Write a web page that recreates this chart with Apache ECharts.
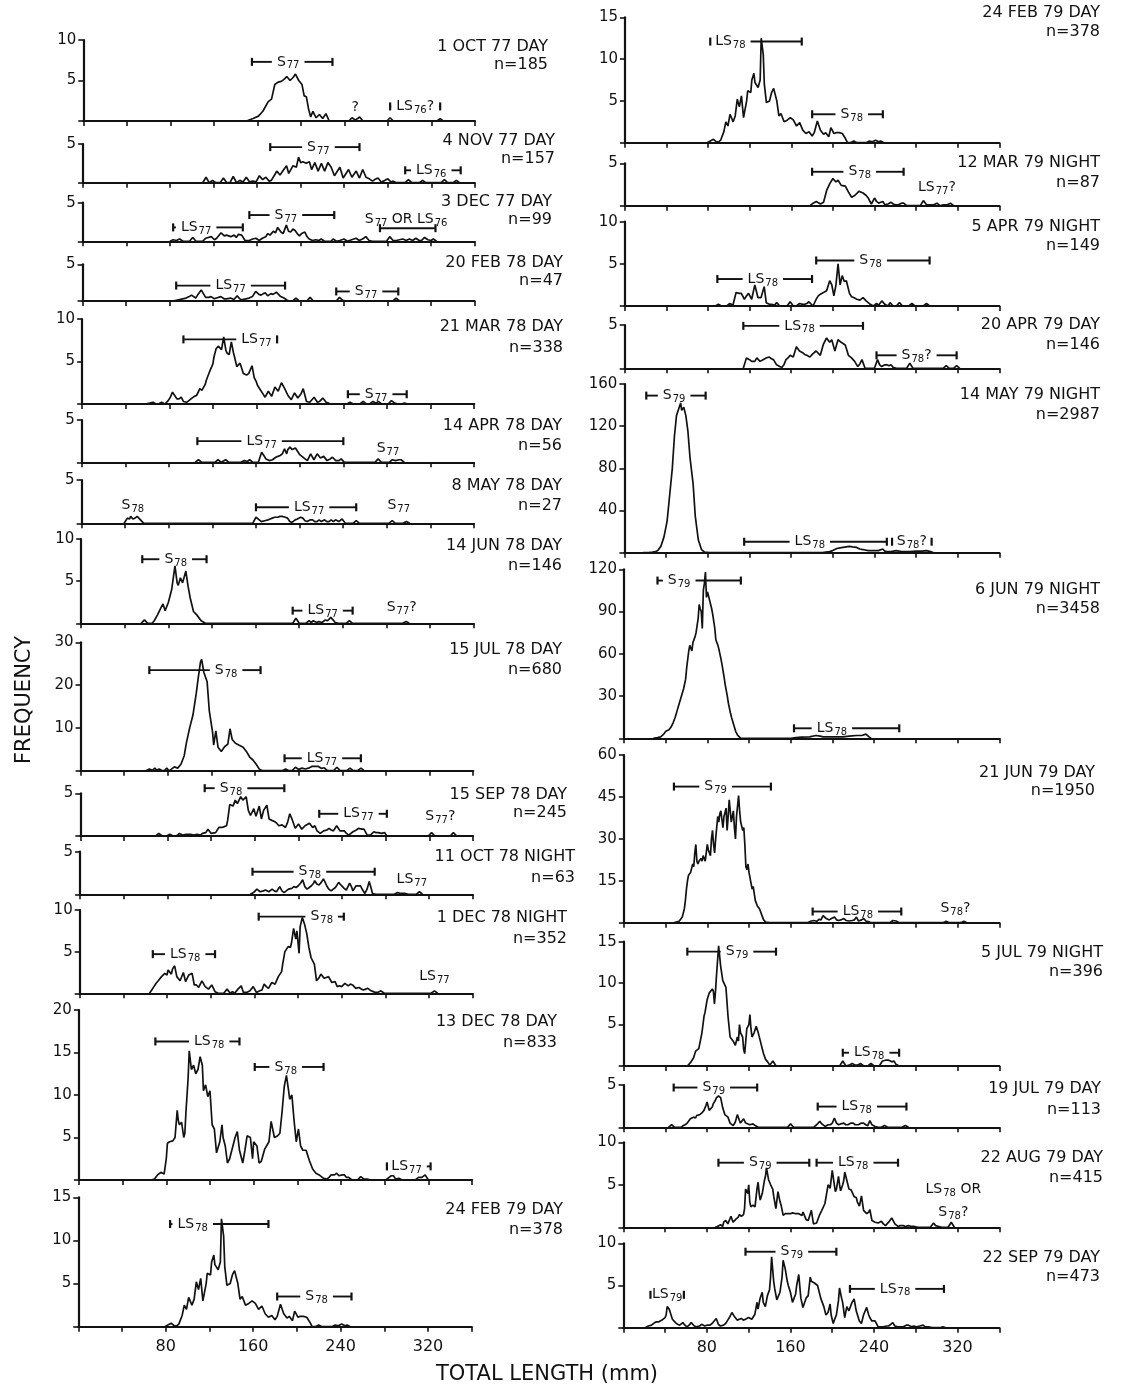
<!DOCTYPE html>
<html><head><meta charset="utf-8">
<script src="https://cdn.jsdelivr.net/npm/echarts@6/dist/echarts.min.js"></script>
<style>html,body{margin:0;padding:0;background:#fff}#c{width:1130px;height:1388px}</style>
</head><body><div id="c"></div>
<script>
// ---------- DATA: length-frequency curves, [total length mm, frequency] ----------
const oct77=[[150,0],[156,0.3],[161,0.6],[165,1.2],[170,2.4],[173,2.7],[176,4.5],[179,4.8],[182,4.9],[185,5.2],[187,5.5],[190,5.0],[193,5.4],[195,5.8],[198,5.0],[201,4.5],[203,3.1],[205,3.0],[207,1.5],[209,0.5],[211,1.2],[214,0.4],[217,0.8],[220,0.3],[223,0.9],[226,0],[244,0],[247,0.4],[250,0.1],[254,0.5],[257,0],[279,0],[282,0.4],[285,0],[325,0],[328,0.3],[331,0]];
const nov77=[[110,0],[113,0.7],[116,0],[119,0.3],[122,0],[126,0],[129,0.6],[132,0],[135,0],[138,0.8],[141,0],[144,0.3],[147,0.1],[150,0.7],[153,0.1],[156,0.2],[159,0.1],[162,0.9],[165,0.4],[168,0.7],[171,0.2],[173,0.3],[176,1.0],[178,1.5],[181,1.0],[184,1.6],[187,2.2],[189,1.2],[193,2.2],[196,2.0],[198,3.3],[200,2.6],[202,2.7],[205,2.5],[208,2.7],[210,1.7],[213,2.6],[216,1.5],[219,2.5],[222,1.5],[225,2.6],[228,2.0],[231,0.9],[236,2.0],[239,0.6],[244,1.7],[247,0.7],[251,1.5],[254,0.6],[257,1.7],[260,0.7],[263,0.5],[266,0.2],[268,0.4],[271,0.6],[274,0.1],[276,0.2],[280,0.5],[283,0.1],[285,0.2],[288,0],[296,0],[299,0.4],[302,0],[309,0],[312,0.3],[315,0],[329,0],[332,0.4],[335,0],[340,0],[343,0.3],[346,0]];
const dec77=[[80,0],[83,0.2],[86,0.1],[89,0.3],[92,0],[98,0],[101,0.5],[104,0],[110,0],[113,0.4],[118,0.6],[121,0.2],[123,0.4],[127,1.1],[130,0.7],[132,0.8],[136,0.6],[139,0.8],[141,0.5],[143,0.9],[146,0.8],[149,0.1],[153,0.1],[156,0.3],[159,0.4],[162,0.1],[165,0.4],[168,0.6],[170,1.0],[172,0.8],[175,1.3],[177,1.1],[179,1.8],[182,1.2],[184,1.0],[187,2.1],[189,1.3],[191,1.2],[193,1.6],[195,1.4],[197,1.0],[199,0.7],[201,1.0],[204,1.2],[206,0.6],[208,0.3],[211,0.1],[214,0.2],[217,0.1],[219,0.3],[222,0],[228,0],[230,0.3],[233,0],[236,0.1],[240,0.3],[243,0],[245,0.1],[251,0.4],[254,0.1],[257,0.3],[260,0.6],[263,0.1],[266,0],[279,0],[282,0.6],[285,0.1],[288,0.1],[291,0.2],[294,0.3],[297,0.1],[300,0.3],[303,0.1],[306,0.4],[309,0.1],[311,0.1],[314,0.5],[317,0.2],[320,0.1],[322,0.3],[325,0]];
const feb78=[[83,0],[86,0.1],[89,0.2],[92,0.3],[95,0.4],[98,0.6],[100,0.8],[104,0.4],[106,0.9],[109,1.5],[111,1.0],[113,0.5],[116,0.5],[118,0.6],[121,0.3],[123,0.4],[127,0.6],[130,0.3],[132,0.3],[136,0.4],[139,0.2],[142,0.7],[145,0.2],[147,0.2],[150,0.3],[153,0.4],[156,0.6],[159,1.3],[162,0.9],[164,0.8],[166,1.0],[168,1.1],[170,0.7],[173,1.0],[175,0.9],[178,1.2],[180,0.9],[182,0.6],[185,0.4],[188,0.1],[190,0],[193,0],[196,0.4],[199,0],[206,0],[209,0.5],[212,0],[233,0],[236,0.5],[239,0.1],[242,0],[285,0],[288,0.4],[291,0]];
const mar78=[[58,0],[62,0.1],[65,0.2],[68,0],[70,0],[73,0.2],[76,0],[79,0.4],[81,0.8],[83,1.4],[85,1.0],[87,0.6],[89,0.6],[91,0.8],[93,0.3],[96,0.2],[98,0.4],[100,0.6],[103,0.9],[105,1.0],[107,1.5],[108,1.8],[110,1.6],[111,1.6],[113,2.3],[114,2.8],[117,3.8],[120,4.7],[121,5.5],[123,6.5],[125,6.8],[126,7.0],[128,6.4],[130,7.9],[132,6.3],[133,6.0],[135,5.8],[137,7.3],[139,6.0],[140,5.5],[142,4.4],[143,4.6],[145,4.8],[147,4.0],[148,3.6],[151,3.4],[153,3.6],[154,3.5],[156,4.5],[157,3.8],[158,3.1],[160,2.6],[161,2.2],[163,1.8],[165,1.4],[168,0.8],[171,1.5],[174,0.9],[177,2.0],[180,1.5],[183,2.5],[186,1.8],[189,1.0],[192,0.5],[195,1.3],[198,0.7],[201,1.2],[203,1.8],[206,0.3],[209,0.2],[211,0.5],[213,0.8],[216,0.2],[218,0.3],[221,0.7],[224,0.2],[226,0.1],[228,0],[243,0],[246,0.2],[249,0],[255,0],[258,0.3],[261,0],[264,0],[267,0.3],[270,0.1],[272,0.3],[275,0],[281,0],[284,0.4],[287,0.1],[290,0],[293,0],[296,0.1],[299,0]];
const apr78=[[104,0],[107,0.3],[110,0],[122,0],[125,0.3],[128,0],[129,0],[132,0.3],[135,0],[146,0],[149,0.2],[152,0.1],[154,0.3],[157,0],[162,0],[165,1.2],[167,0.8],[169,0.4],[172,0.2],[175,0.3],[178,0.6],[180,0.7],[182,0.8],[184,1.0],[186,1.6],[188,1.0],[189,1.5],[191,1.8],[193,1.5],[194,1.5],[196,1.7],[197,1.6],[200,0.9],[202,0.7],[204,0.5],[207,0.2],[210,1.0],[213,0.3],[216,1.0],[219,0.5],[222,0.7],[225,0.2],[228,0.4],[230,0.6],[233,0.2],[236,0.2],[238,0.4],[241,0],[269,0],[272,0.4],[275,0],[282,0],[285,0.3],[288,0.2],[291,0.3],[293,0.3],[296,0]];
const may78=[[39,0],[42,0.6],[44,0.5],[45,0.8],[47,0.5],[49,0.6],[51,0.8],[54,0.4],[57,0],[157,0],[160,0.7],[163,0.4],[165,0.2],[168,0.3],[171,0.4],[173,0.5],[175,0.6],[177,0.7],[180,0.7],[182,0.8],[184,0.8],[187,0.7],[189,0.6],[191,0.2],[193,0.1],[196,0.4],[198,0.5],[201,0.7],[203,0.6],[205,0.3],[207,0.2],[210,0.4],[212,0.4],[214,0.2],[216,0.2],[218,0.4],[220,0.2],[223,0.4],[225,0.2],[227,0.2],[229,0.4],[231,0.2],[233,0.4],[236,0.2],[239,0.5],[242,0],[249,0],[252,0.3],[255,0],[282,0],[285,0.3],[288,0],[295,0],[298,0.2],[301,0]];
const jun78=[[55,0],[58,0.4],[61,0],[65,0],[67,0.3],[70,1.0],[73,1.8],[75,2.3],[77,1.5],[80,2.5],[83,4.0],[86,6.8],[88,4.8],[89,4.5],[91,5.4],[93,4.8],[96,6.2],[98,4.4],[100,3.0],[103,1.4],[106,1.0],[110,0.3],[114,0],[194,0],[197,0.6],[200,0],[206,0],[209,0.3],[211,0.1],[213,0.3],[216,0.1],[218,0.2],[221,0.1],[224,0.4],[226,0.3],[229,0.7],[231,0.4],[233,0.1],[236,0],[243,0],[246,0.3],[249,0],[295,0],[298,0.2],[301,0]];
const jul78=[[60,0],[63,0.4],[66,0.1],[68,0.6],[70,0.1],[72,0.4],[75,0],[77,0.1],[79,0.6],[81,0],[83,0.3],[86,0.9],[89,0.6],[92,1.5],[95,3.5],[97,6.5],[100,10.0],[103,13.0],[106,18.0],[108,22.0],[110,25.5],[111,26.0],[113,23.0],[116,20.8],[118,14.0],[121,9.0],[122,6.0],[124,9.3],[126,5.5],[129,4.5],[132,5.6],[135,6.2],[137,9.8],[139,7.3],[142,6.4],[145,6.0],[149,5.5],[152,4.5],[155,3.2],[158,2.5],[161,1.5],[164,0.3],[167,0],[185,0],[188,0.4],[191,0],[194,0],[197,0.8],[200,0.3],[203,0.6],[206,0.4],[209,0.6],[212,1.0],[215,1.0],[218,1.0],[221,0.5],[223,0.7],[226,0.1],[228,0],[232,0],[235,0.8],[238,0],[244,0],[247,0.6],[250,0],[254,0],[257,0.6],[260,0]];
const sep78=[[69,0],[72,0.3],[75,0],[79,0],[82,0.2],[85,0],[88,0],[91,0.3],[94,0.1],[97,0.2],[101,0.2],[104,0.1],[107,0.2],[110,0.1],[112,0.3],[115,0.4],[117,0.8],[120,0.3],[124,0.4],[127,1.0],[130,1.0],[132,1.1],[134,1.2],[135,1.8],[137,3.7],[140,3.5],[142,4.2],[144,3.8],[145,4.0],[147,4.6],[149,4.2],[152,4.6],[154,3.0],[156,2.4],[159,3.2],[161,2.3],[164,3.5],[166,2.0],[168,3.0],[171,3.6],[173,2.0],[176,1.8],[178,1.7],[180,1.5],[182,1.2],[185,1.3],[188,1.0],[190,1.6],[192,2.6],[194,2.0],[197,0.9],[200,1.4],[203,0.8],[206,1.2],[210,1.5],[213,1.0],[215,1.2],[217,0.6],[220,0.3],[223,0.6],[226,0.7],[228,0.9],[230,0.7],[232,0.6],[235,1.2],[238,0.6],[240,0.6],[242,0.6],[244,0.3],[246,0.1],[250,0.5],[253,0.7],[255,0.9],[258,0.8],[260,0.8],[263,0.1],[266,0.1],[269,0.5],[271,0.4],[273,0.4],[276,0.3],[279,0.4],[281,0],[319,0],[322,0.4],[325,0],[339,0],[342,0.4],[345,0]];
const oct78=[[156,0],[159,0.2],[162,0.6],[165,0.3],[168,0.4],[170,0.5],[173,0.3],[176,0.6],[178,0.4],[180,0.3],[183,0.9],[185,0.4],[187,0.2],[189,0.4],[191,0.6],[194,0.7],[196,0.9],[198,0.8],[200,1.0],[202,1.3],[204,1.7],[206,0.9],[208,0.6],[210,0.8],[212,1.0],[214,1.3],[215,1.6],[217,1.2],[219,1.1],[221,1.4],[223,1.8],[225,1.3],[226,1.0],[228,0.6],[230,0.4],[232,0.6],[234,0.8],[237,1.4],[239,1.1],[240,1.0],[242,0.7],[244,0.5],[247,1.3],[249,0.8],[250,0.4],[253,1.0],[255,1.0],[257,1.0],[259,0.5],[261,0.1],[263,0.6],[265,1.5],[267,0.6],[268,0.1],[271,0],[288,0],[291,0.2],[294,0.1],[298,0.1],[301,0],[308,0],[311,0.3],[314,0]];
const dec1_78=[[64,0],[66,0.4],[68,0.8],[70,1.2],[72,1.5],[75,2.0],[78,2.4],[80,2.2],[81,2.8],[84,2.3],[85,2.9],[87,3.3],[89,2.0],[92,1.5],[95,2.5],[97,1.4],[100,2.2],[103,2.4],[105,1.0],[107,1.0],[109,0.7],[112,1.5],[115,0.8],[118,0.5],[121,1.0],[124,0.2],[127,0],[132,0],[135,0.5],[138,0],[140,0.2],[142,0],[145,0.5],[148,0.9],[150,0.1],[153,0.1],[156,0.3],[159,0.8],[162,0.1],[165,0.3],[167,0.4],[169,1.1],[171,0.8],[173,0.6],[176,1.3],[179,1.1],[182,2.0],[185,2.6],[186,3.5],[188,5.0],[191,5.6],[193,5.5],[194,6.0],[196,7.8],[198,6.5],[199,7.5],[201,4.8],[202,8.0],[204,9.1],[206,8.3],[208,7.2],[210,5.5],[212,4.3],[213,4.0],[215,3.5],[217,1.5],[219,1.8],[221,2.3],[224,1.8],[226,1.9],[228,2.0],[231,1.3],[234,1.4],[236,0.8],[238,0.9],[240,0.8],[243,1.2],[246,0.9],[248,1.1],[250,1.0],[253,0.6],[256,0.7],[258,0.5],[260,0.4],[262,0.5],[264,0.6],[267,0.3],[269,0.2],[271,0.1],[273,0.1],[276,0.3],[279,0],[322,0],[325,0.3],[328,0]];
const dec13_78=[[66,0],[69,0.1],[72,0.6],[75,0.9],[78,0.7],[80,2.5],[81,4.3],[83,4.5],[86,4.6],[88,5.0],[90,8.2],[91,7.0],[92,6.5],[94,6.8],[96,5.0],[97,5.5],[98,8.0],[100,12.0],[101,15.2],[103,13.0],[105,13.5],[107,12.5],[109,13.0],[111,14.5],[113,13.5],[114,10.5],[116,11.2],[118,9.8],[120,10.5],[122,6.5],[124,6.0],[126,3.2],[129,4.5],[131,6.5],[132,5.0],[134,4.0],[136,2.0],[138,2.5],[141,4.0],[143,5.0],[145,5.7],[147,3.5],[150,2.0],[152,3.5],[154,5.2],[157,5.0],[159,2.5],[160,4.5],[163,4.0],[165,2.0],[167,2.2],[170,3.6],[174,4.5],[176,6.9],[179,5.0],[182,5.2],[184,5.5],[186,8.0],[188,11.0],[190,12.3],[192,10.5],[193,9.5],[195,10.0],[197,7.0],[199,4.5],[201,6.0],[203,4.0],[205,3.5],[208,3.5],[211,2.3],[214,1.3],[217,0.8],[220,0.6],[222,0.4],[224,0.2],[227,0.1],[229,0.3],[231,0.6],[234,0.6],[236,0.8],[238,0.5],[241,0.6],[243,0.6],[245,0.3],[247,0.3],[250,0],[255,0],[258,0.4],[261,0.1],[264,0.1],[267,0],[281,0],[284,0.3],[286,0.5],[288,0.5],[290,0.1],[293,0.2],[296,0],[308,0],[311,0.3],[314,0.3],[317,0.6],[318,0.5],[320,0]];
const feb79=[[79,0],[82,0.2],[85,0.4],[88,0.1],[90,0.1],[92,0.3],[95,1.3],[97,2.5],[99,2.0],[101,3.4],[103,2.8],[104,2.5],[106,3.2],[108,5.2],[110,4.3],[112,5.6],[114,3.0],[117,5.0],[118,6.2],[121,6.0],[122,7.5],[124,8.3],[125,7.2],[128,6.6],[130,7.5],[131,12.5],[133,10.5],[134,7.0],[136,4.8],[139,5.0],[141,6.0],[143,6.5],[146,5.0],[148,3.2],[150,3.5],[153,2.5],[156,2.7],[159,3.0],[162,2.7],[165,2.0],[168,2.4],[171,1.5],[174,1.1],[177,1.3],[180,0.8],[182,1.2],[185,2.6],[188,1.5],[191,1.0],[193,1.2],[196,0.7],[198,1.8],[201,1.1],[203,1.2],[206,1.2],[209,1.1],[212,0.5],[214,0],[217,0],[220,0.2],[223,0],[232,0],[235,0.2],[238,0.1],[241,0.3],[244,0.1],[246,0.2],[249,0]];
const mar79=[[178,0],[181,0.3],[184,0.5],[188,0.2],[191,0.4],[194,1.8],[197,2.6],[200,3.2],[203,2.8],[205,3.0],[208,2.4],[212,2.3],[215,1.6],[218,1.0],[221,1.2],[225,1.7],[229,1.5],[232,1.2],[234,0.9],[237,0.2],[240,0.9],[242,0.5],[244,0.3],[246,0.4],[248,0.5],[250,0.1],[253,0.2],[256,0.4],[258,0.2],[260,0.1],[263,0.1],[266,0.3],[268,0.3],[271,0],[284,0],[287,0.6],[290,0.1],[294,0.1],[297,0.1],[300,0.3],[303,0],[306,0.1],[310,0.1],[313,0.3],[316,0]];
const apr5_79=[[87,0],[90,0.2],[93,0],[98,0],[101,0.3],[104,0.1],[107,1.6],[110,1.5],[112,1.5],[115,0.8],[117,1.2],[119,1.5],[122,0.8],[125,2.5],[128,1.0],[131,1.0],[134,2.3],[136,0.4],[139,0.2],[141,0.2],[144,0.1],[146,0.4],[149,0],[156,0],[159,0.5],[162,0],[165,0],[168,0.3],[171,0.2],[173,0.2],[175,0.3],[177,0.5],[181,0],[184,0.8],[186,1.2],[188,1.4],[191,1.6],[194,1.8],[197,3.0],[199,2.5],[201,1.2],[203,2.5],[205,5.0],[207,2.5],[209,3.6],[211,2.9],[213,3.0],[216,1.5],[218,1.1],[220,1.0],[223,0.8],[226,0.7],[229,1.0],[232,0.6],[236,0.2],[239,0],[242,0.3],[244,0.1],[247,0.6],[250,0.2],[253,0],[255,0.4],[258,0],[261,0],[264,0.4],[267,0],[273,0],[276,0.3],[279,0],[287,0],[290,0.3],[293,0]];
const apr20_79=[[114,0],[116,0.8],[117,1.2],[120,1.0],[122,0.8],[123,1.0],[125,0.8],[127,1.2],[130,0.8],[133,1.0],[136,1.2],[139,1.3],[141,1.1],[143,1.0],[146,0.4],[149,0.2],[151,0.1],[153,0.4],[155,1.0],[157,1.2],[159,1.5],[162,1.3],[165,2.5],[168,2.0],[171,1.8],[173,1.6],[175,1.5],[178,1.3],[181,1.7],[184,2.0],[188,1.5],[191,2.8],[194,3.5],[197,3.0],[199,3.3],[202,2.0],[205,3.3],[208,3.0],[212,2.7],[215,1.5],[218,1.2],[221,0.8],[224,0.2],[226,0.5],[228,1.0],[231,0],[240,0],[243,1.0],[245,0.4],[247,0.2],[250,0.4],[252,0.4],[254,0.3],[256,0.4],[258,0.1],[261,0],[271,0],[274,0.6],[277,0],[306,0],[309,0.3],[312,0],[316,0],[319,0.3],[322,0]];
const may79=[[18,0],[24,0.3],[27,0.5],[30,1],[32,2],[35,6],[38,15],[40,25],[41,30],[43,50],[46,80],[48,110],[50,130],[52,136],[54,142],[55,135],[57,138],[59,130],[61,115],[63,90],[66,65],[68,35],[71,12],[74,3],[77,0.5],[82,0],[190,0],[197,1],[200,2],[204,4],[207,4.5],[210,5],[213,5.5],[216,6],[219,5.5],[223,5],[226,3.5],[229,3],[234,2],[239,2],[244,2],[248,3.5],[250,1.5],[252,1],[256,1],[261,2],[266,1],[274,1],[280,1.5],[286,1.5],[290,2],[294,1],[297,0]];
const jun6_79=[[28,0],[32,0.5],[35,1],[38,3],[40,5],[43,6],[45,8],[47,11],[49,15],[51,20],[53,25],[55,30],[57,35],[59,42],[60,50],[62,62],[63,66],[64,65],[65,62],[66,68],[68,72],[69,75],[70,80],[71,85],[72,95],[73,92],[74,90],[75,78],[76,105],[77,110],[78,118],[79,100],[80,104],[81,103],[82,98],[83,95],[84,92],[85,88],[87,78],[88,70],[90,66],[91,63],[93,56],[94,52],[96,43],[97,38],[99,30],[100,25],[102,18],[103,15],[105,10],[107,5],[109,2],[112,0],[160,0],[165,0.5],[170,0.8],[178,1],[184,2],[188,1.5],[191,1],[200,1],[210,1],[216,1.5],[223,2],[228,2],[232,3],[235,1],[237,0]];
const jun21_79=[[48,0],[50,0.2],[53,0.5],[56,2],[58,5],[59,8],[60,12],[61,15],[62,17],[64,18],[66,21],[67,20],[68,25],[69,28],[70,22],[71,21],[72,22],[74,23],[75,22],[76,24],[78,22],[80,28],[81,26],[83,24],[84,30],[85,33],[86,28],[87,25],[88,30],[90,38],[91,36],[92,39],[93,40],[94,37],[95,34],[96,38],[98,41],[99,33],[100,38],[101,44],[102,40],[103,36],[104,38],[105,40],[106,34],[107,30],[108,38],[110,45.5],[111,40],[112,36],[114,33],[115,34],[116,28],[117,20],[118,19],[119,21],[120,18],[122,14],[123,12],[124,13],[126,8],[128,6],[130,5],[131,4],[133,2],[134,1],[136,0.2],[140,0],[176,0],[179,0.5],[182,0.8],[185,0.5],[187,1.2],[189,1],[191,2.5],[192,3],[194,1.5],[197,1],[199,1.5],[202,2],[204,1],[206,0.8],[208,1],[211,1.5],[213,0.8],[216,0.6],[219,0.8],[221,1],[223,2],[225,0.6],[228,1],[230,1.5],[232,0.6],[235,0.3],[237,0],[255,0],[258,0.8],[261,0.6],[264,0],[306,0],[309,0.5],[312,0],[323,0],[326,0.5],[329,0]];
const jul5_79=[[61,0],[64,0.4],[67,1.0],[69,1.8],[70,2.0],[72,2.1],[73,2.3],[75,4.0],[77,6.0],[78,6.5],[80,8.0],[82,8.8],[83,9.0],[85,9.3],[86,9.0],[87,7.5],[88,9.0],[89,11.0],[91,14.5],[93,12.0],[95,10.3],[96,10.5],[98,9.5],[100,6.0],[102,3.5],[105,3.0],[107,2.5],[109,3.5],[110,3.0],[111,5.0],[112,4.0],[114,3.5],[115,2.0],[116,1.5],[118,4.5],[120,5.0],[121,6.2],[122,4.5],[123,3.5],[125,4.0],[127,4.8],[128,5.0],[129,4.0],[131,3.0],[133,2.0],[134,1.5],[136,0.8],[138,0.5],[140,0.1],[141,0],[143,0.6],[146,0],[207,0],[210,0.6],[213,0],[216,0.1],[219,0.3],[222,0.1],[224,0.1],[227,0.3],[230,0],[234,0],[237,0.3],[240,0],[245,0],[248,0.6],[251,0.7],[254,0.7],[257,0.5],[259,0.6],[261,0.2],[264,0]];
const jul19_79=[[43,0],[46,0.3],[49,0],[55,0],[57,0.2],[59,0.3],[61,0.5],[64,1.0],[67,1.2],[69,1.1],[70,1.4],[73,1.5],[75,1.7],[77,2.0],[79,2.6],[80,3.0],[82,2.0],[85,2.4],[86,2.8],[88,3.2],[89,3.5],[91,3.7],[93,3.5],[95,2.3],[97,1.5],[100,1.2],[102,0.5],[105,0.2],[107,0.6],[109,1.5],[111,0.8],[112,0.5],[115,1.0],[117,0.5],[118,0.4],[121,0.3],[124,0.4],[126,0.2],[129,0],[157,0],[160,0.4],[163,0],[182,0],[185,0.3],[188,0.7],[190,0.4],[193,0.1],[196,0.3],[198,0.3],[200,0.5],[202,1.1],[204,0.5],[206,0.3],[208,0.4],[211,0.5],[213,0.3],[215,0.3],[218,0.5],[220,0.5],[222,0.3],[225,0.3],[228,0.5],[230,0.5],[232,0.3],[234,0.2],[236,0.8],[238,0.3],[241,0.1],[244,0],[247,0],[250,0.2],[253,0],[267,0],[270,0.2],[273,0]];
const aug79=[[88,0],[90,0.1],[93,0.3],[95,0.1],[96,0.6],[98,0.8],[100,0.4],[101,0.5],[103,1.3],[105,0.6],[108,1.0],[110,1.2],[111,1.5],[113,1.3],[115,1.5],[116,2.2],[117,4.5],[119,4.0],[120,5.0],[121,3.0],[122,2.4],[124,2.6],[126,2.4],[128,4.6],[129,5.3],[130,4.0],[131,3.2],[133,4.0],[135,5.5],[136,6.0],[137,7.0],[139,5.6],[141,5.0],[143,4.5],[144,3.6],[146,2.2],[148,4.2],[150,3.0],[151,2.6],[153,1.4],[155,1.6],[156,1.8],[158,1.6],[160,1.6],[162,1.7],[163,1.8],[165,1.6],[166,1.4],[168,1.6],[169,1.7],[171,1.4],[172,1.8],[174,1.2],[175,0.9],[177,0.8],[178,0.7],[180,2.0],[182,0.4],[185,0.5],[188,1.5],[190,2.0],[191,2.2],[193,2.8],[194,3.0],[196,5.0],[198,4.6],[200,6.7],[202,5.0],[203,4.2],[204,4.5],[206,6.0],[207,5.0],[208,4.3],[210,5.0],[211,5.5],[212,6.5],[214,5.5],[216,4.5],[218,4.4],[219,4.3],[221,3.6],[223,3.5],[224,3.0],[226,2.5],[228,3.7],[230,2.0],[231,1.8],[233,1.6],[235,1.8],[236,2.1],[238,0.8],[241,0.6],[244,0.5],[247,0.7],[249,0.4],[251,0.2],[254,0.6],[257,1.1],[260,0.4],[263,0.1],[265,0.2],[268,0.2],[270,0.1],[273,0.2],[276,0.1],[278,0.1],[282,0],[294,0],[297,0.5],[299,0.2],[302,0.1],[305,0],[311,0],[314,0.6],[317,0]];
const sep79=[[21,0],[24,0.2],[27,0.3],[30,0.6],[32,0.7],[34,0.7],[37,0.9],[40,1.2],[41,1.5],[42,2.5],[44,2.2],[45,2.0],[47,1.0],[50,0.6],[52,0.4],[54,0.3],[57,0.6],[59,0.3],[61,0.1],[63,0.3],[65,0.6],[68,0.2],[70,0.1],[73,0.2],[75,0.4],[78,0.2],[80,0.3],[83,0.3],[85,0.5],[87,0.8],[89,1.1],[91,0.4],[93,0.2],[96,0.3],[98,0.5],[100,0.9],[102,1.3],[104,1.8],[106,1.4],[107,1.2],[109,0.9],[110,0.8],[113,1.1],[115,0.9],[117,1.0],[120,1.2],[123,1.0],[126,1.6],[128,3.0],[129,2.2],[131,3.5],[133,4.2],[134,3.0],[136,2.5],[138,3.8],[140,4.5],[141,6.0],[142,8.4],[144,5.5],[145,4.6],[147,3.3],[150,4.2],[152,6.0],[153,8.0],[155,7.0],[157,5.5],[158,5.0],[160,4.2],[162,3.0],[165,4.0],[166,5.0],[168,6.3],[170,3.5],[172,2.4],[175,3.5],[177,3.8],[179,6.0],[180,5.5],[181,5.5],[183,5.3],[184,5.2],[186,5.0],[187,4.8],[189,3.5],[192,2.5],[194,1.5],[196,1.8],[198,2.8],[199,1.5],[201,0.5],[203,1.2],[204,1.5],[206,3.2],[207,4.7],[209,3.5],[210,3.0],[212,1.2],[214,2.5],[216,2.0],[219,3.0],[221,3.4],[222,3.6],[223,2.0],[226,0.8],[228,0.5],[230,1.5],[233,2.4],[235,1.5],[236,1.2],[238,0.8],[241,0.8],[244,0.1],[246,0.1],[249,0.1],[252,0.2],[254,0.2],[256,0.4],[258,0.6],[260,0.2],[263,0.1],[266,0.1],[268,0.1],[271,0.3],[273,0.3],[276,0.1],[278,0.2],[281,0.1],[284,0.2],[287,0.3],[289,0.1],[292,0.1],[296,0],[303,0],[306,0.1],[309,0]];

// ---------- cohort range annotations: [from mm, to mm (null = text only), frequency level, label, label position 0..1] ----------
const notesL=[
 [[155,229,7.3,'S~77~',0.45],[250,null,1.7,'?'],[282,328,1.8,'LS~76~?',0.5]],
 [[172,254,4.6,'S~77~',0.54],[296,347,1.6,'LS~76~',0.47]],
 [[83,147,1.8,'LS~77~',0.33],[153,231,3.4,'S~77~',0.43],[297,null,2.8,'S~77~ OR LS~76~'],[273,324,1.7,'',0]],
 [[86,186,2.1,'LS~77~',0.5],[233,290,1.3,'S~77~',0.48]],
 [[93,179,7.6,'LS~77~',0.78],[244,298,1.15,'S~77~',0.48]],
 [[106,240,2.5,'LS~77~',0.44],[281,null,1.7,'S~77~']],
 [[47,null,2.1,'S~78~'],[160,252,1.85,'LS~77~',0.53],[291,null,2.1,'S~77~']],
 [[56,115,7.6,'S~78~',0.52],[194,249,1.5,'LS~77~',0.5],[294,null,1.85,'S~77~?']],
 [[63,165,23.5,'S~78~',0.69],[187,257,2.9,'LS~77~',0.49]],
 [[114,187,5.6,'S~78~',0.33],[219,281,2.6,'LS~77~',0.58],[330,null,2.3,'S~77~?']],
 [[158,270,2.65,'S~78~',0.47],[304,null,1.8,'LS~77~']],
 [[164,242,9.2,'S~78~',0.74],[67,124,4.7,'LS~78~',0.52],[325,null,2.0,'LS~77~']],
 [[70,147,16.3,'LS~78~',0.64],[161,224,13.3,'S~78~',0.45],[282,322,1.6,'LS~77~',0.45]],
 [[84,174,11.9,'LS~78~',0.23],[182,250,3.5,'S~78~',0.53]]
];
const notesR=[
 [[82,170,12.1,'LS~78~',0.22],[180,248,3.4,'S~78~',0.56]],
 [[180,268,4.0,'S~78~',0.52],[300,null,2.2,'LS~77~?']],
 [[89,180,3.2,'LS~78~',0.48],[184,293,5.4,'S~78~',0.48]],
 [[114,229,4.9,'LS~78~',0.47],[242,319,1.5,'S~78~?',0.5]],
 [[21,78,149,'S~79~',0.47],[115,252,10.4,'LS~78~',0.46],[257,295,10.4,'S~78~?',0.5]],
 [[32,112,112,'S~79~',0.26],[163,264,7.1,'LS~78~',0.36]],
 [[48,141,48.7,'S~79~',0.43],[181,266,4.0,'LS~78~',0.51],[318,null,5.1,'S~78~?']],
 [[61,146,13.8,'S~79~',0.56],[210,264,1.6,'LS~78~',0.47]],
 [[48,128,4.7,'S~79~',0.48],[186,271,2.45,'LS~78~',0.44]],
 [[91,178,7.6,'S~79~',0.46],[185,263,7.6,'LS~78~',0.45],[316,null,4.5,'LS~78~ OR'],[316,null,1.8,'S~78~?']],
 [[26,58,3.9,'LS~79~',0.5],[117,204,9.0,'S~79~',0.51],[217,307,4.6,'LS~78~',0.48]]
];

const seriesL=[oct77,nov77,dec77,feb78,mar78,apr78,may78,jun78,jul78,sep78,oct78,dec1_78,dec13_78,feb79];
const seriesR=[feb79,mar79,apr5_79,apr20_79,may79,jun6_79,jun21_79,jul5_79,jul19_79,aug79,sep79];
const titlesL=['1 OCT 77 DAY','4 NOV 77 DAY','3 DEC 77 DAY','20 FEB 78 DAY','21 MAR 78 DAY','14 APR 78 DAY','8 MAY 78 DAY','14 JUN 78 DAY','15 JUL 78 DAY','15 SEP 78 DAY','11 OCT 78 NIGHT','1 DEC 78 NIGHT','13 DEC 78 DAY','24 FEB 79 DAY'];
const countsL=[185,157,99,47,338,56,27,146,680,245,63,352,833,378];
const titlesR=['24 FEB 79 DAY','12 MAR 79 NIGHT','5 APR 79 NIGHT','20 APR 79 DAY','14 MAY 79 NIGHT','6 JUN 79 NIGHT','21 JUN 79 DAY','5 JUL 79 NIGHT','19 JUL 79 DAY','22 AUG 79 DAY','22 SEP 79 DAY'];
const countsR=[378,87,149,146,2987,3458,1950,396,113,415,473];
// y-axis scale per panel: [max, tick step]
const yScaleL=[[10,5],[5,5],[5,5],[5,5],[10,5],[5,5],[5,5],[10,5],[30,10],[5,5],[5,5],[10,5],[20,5],[15,5]];
const yScaleR=[[15,5],[5,5],[10,5],[5,5],[160,40],[120,30],[60,15],[15,5],[5,5],[10,5],[10,5]];
const xTickLabels=[80,160,240,320];

// ---------- LAYOUT (pixels) ----------
// [grid top, grid bottom, title right edge, title line y, n line y]
const layoutL=[[40,121,548,46.7,65],[144,182.7,555,141,159],[202.7,241.3,552,201.7,220],[264.3,301,563,263,281],[319,404,563,326.7,347.7],[420,462.3,562,426,446],[480,523.3,562,486,506],[539,623.3,562,546,566],[642.3,770.7,562,650,670],[793.3,836,567,795,813],[851.7,894.3,575,856.7,878],[910,993.3,567,918,939],[1010,1180,557,1021.7,1043],[1197.3,1326.7,563,1210,1230]];
const layoutR=[[17.3,142.7,1100,12.7,31.7],[163.3,205.7,1100,163.3,182.7],[221.7,306,1100,226.7,245.7],[325,368.3,1100,325,345],[384,552.7,1100,395,415],[569.3,738.3,1100,590,609.3],[755,922.7,1095,773.3,790.7],[941.7,1066,1103,953.3,971.7],[1085,1127.3,1101,1089,1110],[1142.3,1227.3,1103,1158.3,1178.3],[1243.3,1327.7,1100,1257.7,1276.7]];

const FONT='"DejaVu Sans", "Liberation Sans", Arial, sans-serif';
const INK='#121212';
const mctx=document.createElement('canvas').getContext('2d');
function tw(s,size){mctx.font=size+'px '+FONT;return mctx.measureText(s).width;}
function parseLabel(s){
  if(!s) return {text:'',width:0};
  const parts=s.split('~');let txt='',w=0;
  parts.forEach((p,k)=>{ if(!p) return; if(k%2){txt+='{s|'+p+'}';w+=tw(p,10)+1;} else {txt+='{m|'+p+'}';w+=tw(p,14);} });
  return {text:txt,width:w};
}
const RICH={m:{fontSize:14,fontFamily:FONT,lineHeight:18,fill:INK},s:{fontSize:10,fontFamily:FONT,lineHeight:10,verticalAlign:'bottom',fill:INK,padding:[0,0,0,1]}};

function makeRender(notes){
  return function(params,api){
    const n=notes[api.value(2)];
    const pA=api.coord([n[0],n[2]]);
    const lab=parseLabel(n[3]);
    const ch=[];
    const y=pA[1];
    let cx=pA[0];
    if(n[1]!=null){
      const pB=api.coord([n[1],n[2]]);
      cx=pA[0]+(pB[0]-pA[0])*(n[4]||0);
      const hw=lab.width?lab.width/2+5:0;
      const segs=lab.width?[[pA[0],cx-hw],[cx+hw,pB[0]]]:[[pA[0],pB[0]]];
      segs.forEach(s=>{ if(s[1]-s[0]>1) ch.push({type:'line',shape:{x1:s[0],y1:y,x2:s[1],y2:y},style:{stroke:INK,lineWidth:1.9}}); });
      [pA[0],pB[0]].forEach(x=>ch.push({type:'line',shape:{x1:x,y1:y-4,x2:x,y2:y+4},style:{stroke:INK,lineWidth:2.2}}));
    }
    if(lab.text) ch.push({type:'text',x:cx,y:y,style:{text:lab.text,rich:RICH,align:'center',verticalAlign:'middle',fill:INK}});
    return {type:'group',children:ch};
  };
}

const grids=[],xAxes=[],yAxes=[],series=[],graphics=[];
function addPanel(col,i){
  const left=col==='L';
  const lay=left?layoutL[i]:layoutR[i];
  const sc=left?yScaleL[i]:yScaleR[i];
  const data=left?seriesL[i]:seriesR[i];
  const notes=left?notesL[i]:notesR[i];
  const bottomAxis=left?(i===layoutL.length-1):(i===layoutR.length-1);
  const f=left?(lay[1]-121)/1206:(lay[1]-142.7)/1185;
  const x0=left?83.3-5*f:625-1.7*f;
  const x1=left?475-3.3*f:999.3;
  const gi=grids.length;
  grids.push({left:x0,top:lay[0],width:x1-x0,height:lay[1]-lay[0]});
  xAxes.push({type:'value',gridIndex:gi,min:0,max:360,interval:40,
    axisLine:{show:true,onZero:false,lineStyle:{color:INK,width:2.2}},
    axisTick:{show:true,length:5,lineStyle:{color:INK,width:1.6}},
    axisLabel:{show:bottomAxis,interval:0,formatter:v=>xTickLabels.indexOf(v)>=0?String(v):'',fontSize:16,color:INK,margin:12,fontFamily:FONT},
    splitLine:{show:false}});
  yAxes.push({type:'value',gridIndex:gi,min:0,max:sc[0],interval:sc[1],
    axisLine:{show:true,onZero:false,lineStyle:{color:INK,width:2.2}},
    axisTick:{show:true,length:5,lineStyle:{color:INK,width:1.6}},
    axisLabel:{formatter:v=>v===0?'':String(v),fontSize:15,color:INK,margin:7,fontFamily:FONT},
    splitLine:{show:false}});
  series.push({type:'line',xAxisIndex:gi,yAxisIndex:gi,data:data,symbol:'none',showSymbol:false,lineStyle:{color:INK,width:1.7},z:3,silent:true});
  series.push({type:'custom',xAxisIndex:gi,yAxisIndex:gi,data:notes.map((n,k)=>[n[0],n[2],k]),renderItem:makeRender(notes),z:4,silent:true,clip:false});
  const t=left?titlesL[i]:titlesR[i];
  const c=left?countsL[i]:countsR[i];
  graphics.push({type:'text',x:lay[2],y:lay[3],silent:true,style:{text:t,font:'16px '+FONT,fill:INK,align:'right',verticalAlign:'middle'}});
  graphics.push({type:'text',x:lay[2],y:lay[4],silent:true,style:{text:'n='+c,font:'16px '+FONT,fill:INK,align:'right',verticalAlign:'middle'}});
}
for(let i=0;i<layoutL.length;i++) addPanel('L',i);
for(let i=0;i<layoutR.length;i++) addPanel('R',i);
graphics.push({type:'text',x:25,y:700,rotation:Math.PI/2,silent:true,style:{text:'FREQUENCY',font:'21px '+FONT,fill:INK,align:'center',verticalAlign:'middle'}});
graphics.push({type:'text',x:547,y:1375,silent:true,style:{text:'TOTAL LENGTH (mm)',font:'21px '+FONT,fill:INK,align:'center',verticalAlign:'middle'}});

const chart=echarts.init(document.getElementById('c'),null,{renderer:'canvas'});
chart.setOption({backgroundColor:'#ffffff',animation:false,grid:grids,xAxis:xAxes,yAxis:yAxes,series:series,graphic:graphics});
</script></body></html>
